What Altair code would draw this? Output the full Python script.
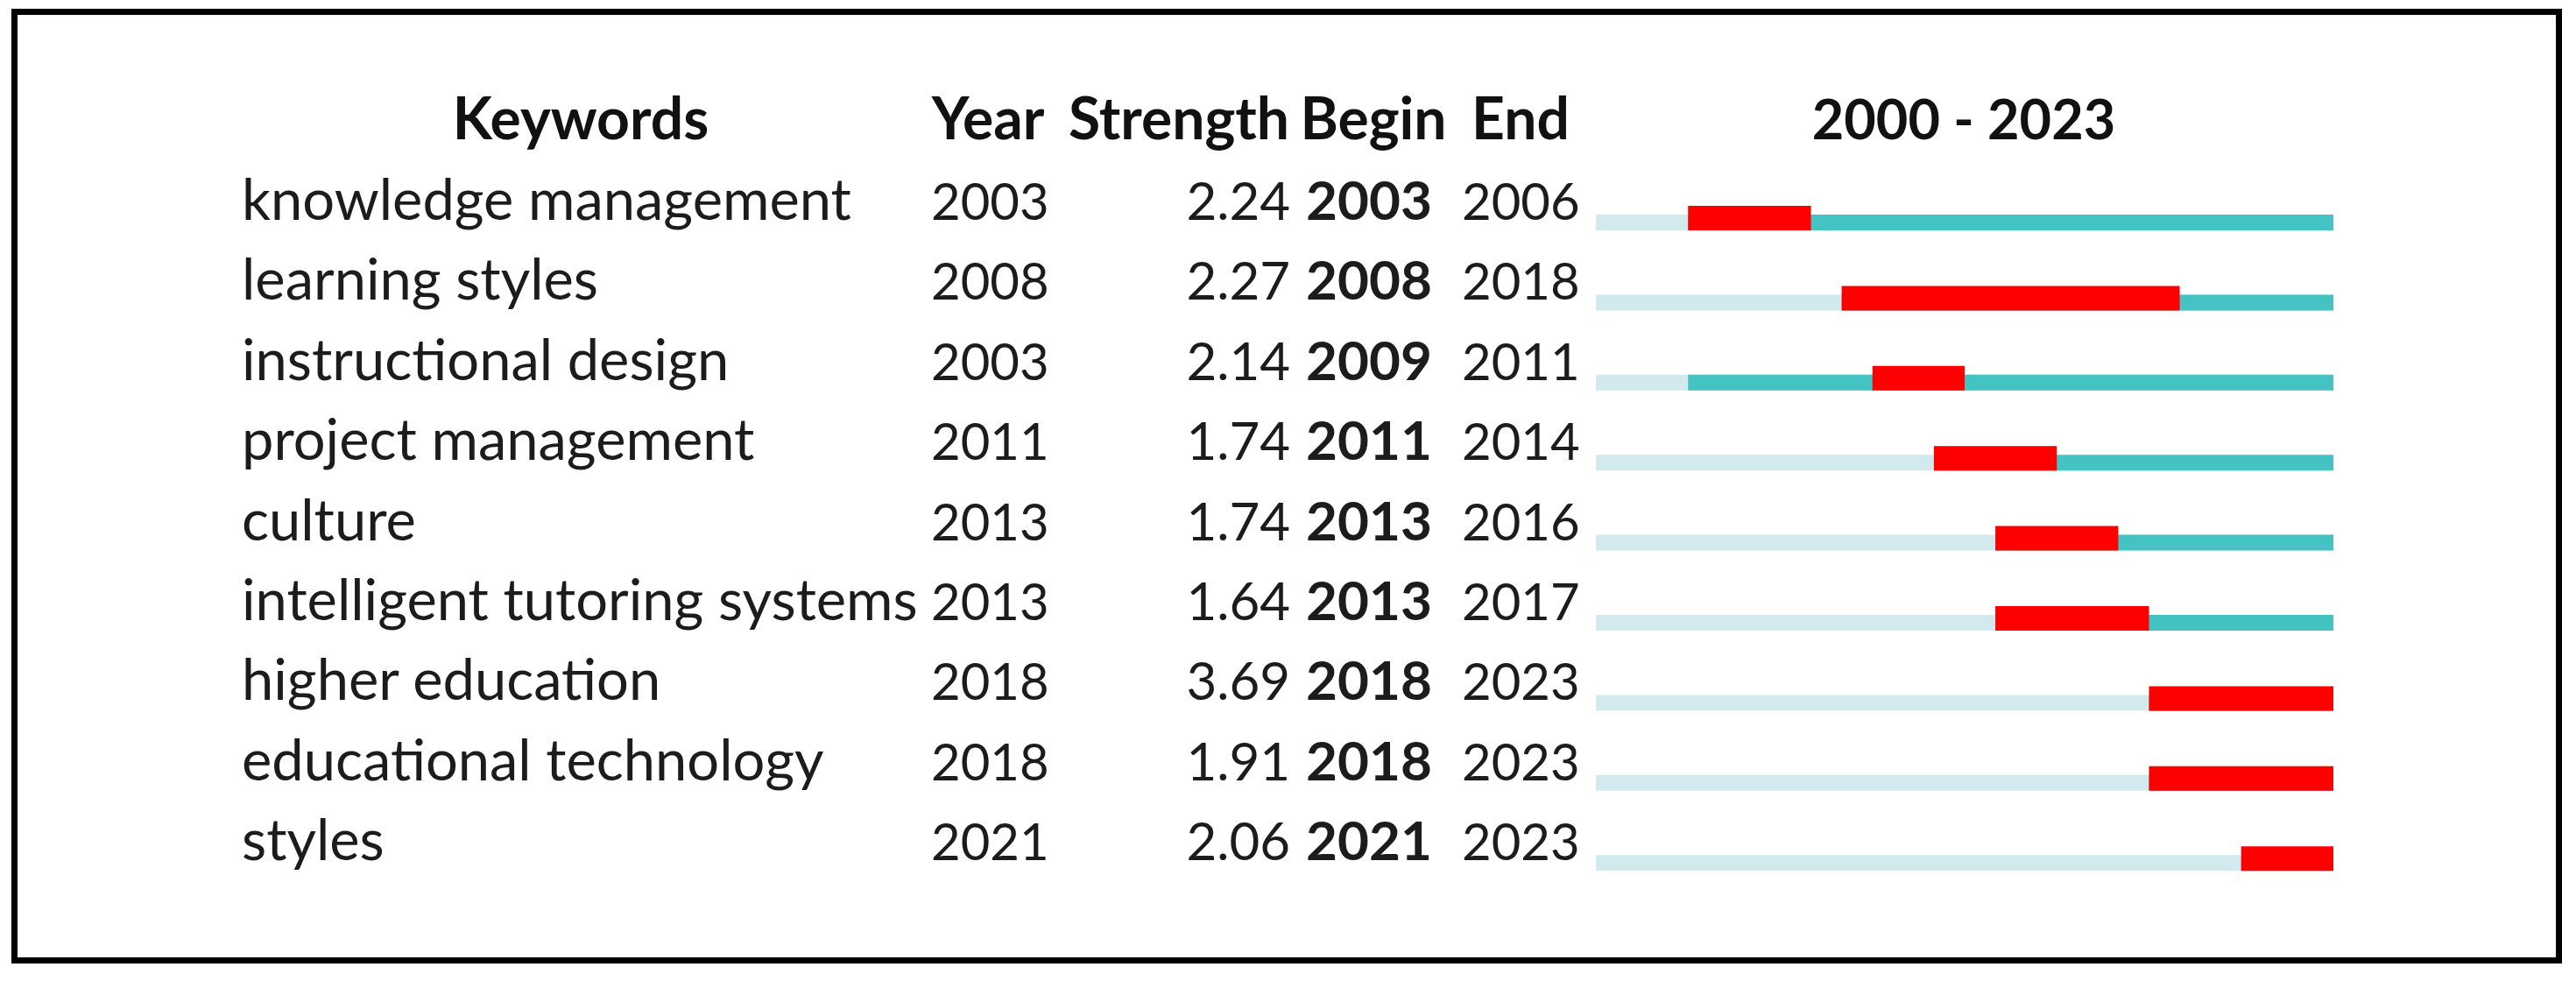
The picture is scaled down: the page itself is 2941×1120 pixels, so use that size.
import altair as alt
import pandas as pd

# ---- data ----
keywords = [
    "knowledge management",
    "learning styles",
    "instructional design",
    "project management",
    "culture",
    "intelligent tutoring systems",
    "higher education",
    "educational technology",
    "styles",
]
first_year = [2003, 2008, 2003, 2011, 2013, 2013, 2018, 2018, 2021]
strength = [2.24, 2.27, 2.14, 1.74, 1.74, 1.64, 3.69, 1.91, 2.06]
begin = [2003, 2008, 2009, 2011, 2013, 2013, 2018, 2018, 2021]
end = [2006, 2018, 2011, 2014, 2016, 2017, 2023, 2023, 2023]
period = [2000, 2023]
headers = ["Keywords", "Year", "Strength", "Begin", "End"]
title_text = f"{period[0]} - {period[1]}"

df = pd.DataFrame({
    "row": list(range(len(keywords))),
    "keyword": keywords,
    "year": first_year,
    "strength": strength,
    "begin": begin,
    "end": end,
})
df["p0"] = period[0]
df["p1"] = period[1] + 1
df["end1"] = df["end"] + 1

W, H = 2925, 1104
FONT = "Lato"
TXT = "#1c1c1c"

xscale = alt.Scale(domain=[1948.294, 2031.668], nice=False, zero=False)
yscale = alt.Scale(domain=[-2.659, 9.420], nice=False, zero=False, reverse=True)

base = alt.Chart(df)
Y = alt.Y("row:Q", scale=yscale, axis=None)

light = base.mark_rule(color="#d2e9ee", strokeWidth=18, strokeCap="butt", yOffset=3).encode(
    x=alt.X("p0:Q", scale=xscale, axis=None), x2="p1:Q", y=Y)
teal = base.mark_rule(color="#45c3c3", strokeWidth=18, strokeCap="butt", yOffset=3).encode(
    x=alt.X("year:Q", scale=xscale, axis=None), x2="p1:Q", y=Y)
red = base.mark_rule(color="#ff0000", strokeWidth=28, strokeCap="butt", yOffset=-2).encode(
    x=alt.X("begin:Q", scale=xscale, axis=None), x2="end1:Q", y=Y)


def col(field, xpix, size, align="left", bold=False, fmt=None):
    t = alt.Text(f"{field}:Q", format=fmt) if fmt else alt.Text(f"{field}:N")
    return base.mark_text(
        font=FONT, fontSize=size, fontWeight="bold" if bold else "normal",
        align=align, baseline="alphabetic", color=TXT,
    ).encode(x=alt.value(xpix), y=Y, text=t)


kw = col("keyword", 268, 65)
yr = col("year", 1055, 58)
st = col("strength", 1465, 60, align="right", fmt=".2f")
bg = col("begin", 1483, 62, bold=True)
en = col("end", 1661, 58)

hdr_x = [655, 1120, 1338, 1560, 1728]
one = alt.Chart(pd.DataFrame({"h": [0]}))
hdr_layers = [
    one.mark_text(font=FONT, fontSize=66, fontWeight="bold", align="center",
                  baseline="alphabetic", color="#111111", text=h).encode(
        x=alt.value(xp), y=alt.value(151))
    for h, xp in zip(headers, hdr_x)
]
ttl = one.mark_text(font=FONT, fontSize=63, fontWeight="bold", align="center",
                    baseline="alphabetic", color="#111111", text=title_text).encode(
    x=alt.value(2234), y=alt.value(151))

border = one.mark_rect(filled=False, stroke="black", strokeWidth=7).encode(
    x=alt.value(8.5), x2=alt.value(2913.5), y=alt.value(5.5), y2=alt.value(1088.5))

chart = alt.layer(
    border, light, teal, red, kw, yr, st, bg, en, *hdr_layers, ttl
).properties(
    width=W, height=H, padding=0,
    autosize=alt.AutoSizeParams(type="fit", contains="padding"),
    background="white",
).configure_view(strokeWidth=0)

chart.save("out.html", embed_options={"renderer": "svg", "actions": False})
